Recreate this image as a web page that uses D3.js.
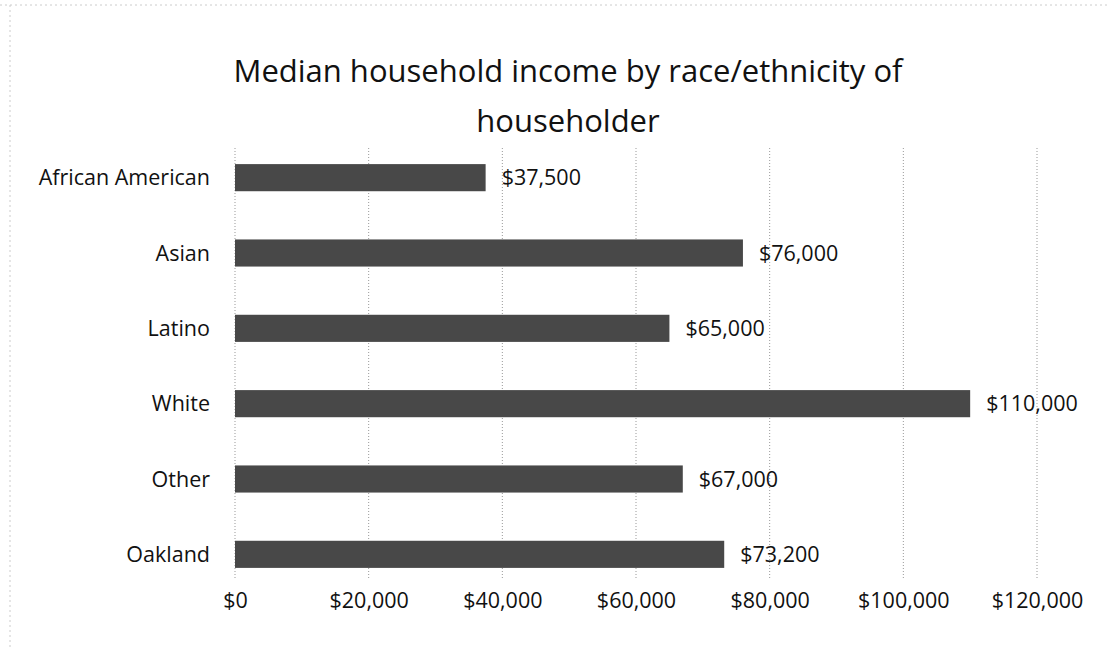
<!doctype html>
<html lang="en">
  <head>
    <meta charset="utf-8" />
    <title>Median household income</title>
    <style>
      body { margin: 0; background: #fff; }
      text { font-family: "Open Sans", Lato, sans-serif; fill: #111; }
    </style>
  </head>
  <body>
    <div id="chart"></div>
    <script src="https://cdn.jsdelivr.net/npm/d3@7"></script>
    <script>
// data
var groups = ["African American", "Asian", "Latino", "White", "Other", "Oakland"];
var incomes = [37500, 76000, 65000, 110000, 67000, 73200];
var ticks = [0, 20000, 40000, 60000, 80000, 100000, 120000];
var titleLines = ["Median household income by race/ethnicity of", "householder"];

var width = 1110, height = 649;
var margin = {top: 140, right: 73, bottom: 57, left: 235};

var svg = d3.select("#chart")
  .append("svg")
    .attr("width", width)
    .attr("height", height);

// faint frame of the scanned chart
svg.append("line")
  .attr("x1", 0).attr("x2", width).attr("y1", 5).attr("y2", 5)
  .style("stroke", "#ccc").style("stroke-dasharray", "2,3");
svg.append("line")
  .attr("x1", 10).attr("x2", 10).attr("y1", 5).attr("y2", height)
  .style("stroke", "#ccc").style("stroke-dasharray", "2,3");

var x = d3.scaleLinear()
  .domain([0, 120000])
  .range([margin.left, width - margin.right]);

var y = d3.scaleBand()
  .domain(groups)
  .range([margin.top, height - margin.bottom])
  .paddingInner(0.64)
  .paddingOuter(0.32);

// gridlines
svg.selectAll(".grid")
  .data(ticks)
  .enter()
  .append("line")
    .attr("x1", function(d){ return x(d); })
    .attr("x2", function(d){ return x(d); })
    .attr("y1", 148)
    .attr("y2", 578)
    .style("stroke", "#999")
    .style("stroke-width", 1)
    .style("stroke-dasharray", "1,2");

// bars
svg.selectAll(".bar")
  .data(groups)
  .enter()
  .append("rect")
    .attr("x", x(0))
    .attr("y", function(d){ return y(d); })
    .attr("width", function(d, i){ return x(incomes[i]) - x(0); })
    .attr("height", y.bandwidth())
    .style("fill", "#484848");

var money = function(v){ return "$" + d3.format(",")(v); };

// value labels
svg.selectAll(".val")
  .data(groups)
  .enter()
  .append("text")
    .attr("x", function(d, i){ return x(incomes[i]) + 16; })
    .attr("y", function(d){ return y(d) + y.bandwidth() / 2; })
    .attr("dy", "0.35em")
    .attr("font-size", "21.5px")
    .text(function(d, i){ return money(incomes[i]); });

// category labels
svg.selectAll(".cat")
  .data(groups)
  .enter()
  .append("text")
    .attr("x", margin.left - 25)
    .attr("y", function(d){ return y(d) + y.bandwidth() / 2; })
    .attr("dy", "0.35em")
    .attr("text-anchor", "end")
    .attr("font-size", "21.5px")
    .text(function(d){ return d; });

// x axis labels
var xAxis = svg.append("g")
  .attr("transform", "translate(0,608)")
  .call(d3.axisBottom(x).tickValues(ticks).tickFormat(money).tickSize(0).tickPadding(0));
xAxis.select(".domain").remove();
xAxis.selectAll("text")
  .attr("dy", "0")
  .attr("font-size", "21.5px")
  .style("font-family", "'Open Sans', Lato, sans-serif")
  .style("fill", "#111");

// title
svg.selectAll(".title")
  .data(titleLines)
  .enter()
  .append("text")
    .attr("x", 568)
    .attr("y", function(d, i){ return 82 + i * 50; })
    .attr("text-anchor", "middle")
    .attr("font-size", "31px")
    .text(function(d){ return d; });
    </script>
  </body>
</html>
